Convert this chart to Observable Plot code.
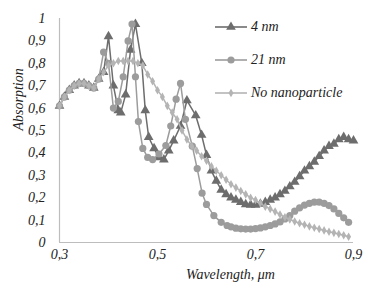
<!DOCTYPE html>
<html><head><meta charset="utf-8">
<script src="https://cdn.jsdelivr.net/npm/d3@7"></script>
<script src="https://cdn.jsdelivr.net/npm/@observablehq/plot@0.6"></script>
<style>
body{margin:0;background:#fff;}
#wrap{position:relative;width:383px;height:296px;font-family:'Liberation Serif','Times New Roman',serif;font-style:italic;}
#wrap svg text{font-family:'Liberation Serif','Times New Roman',serif;font-style:italic;}
.leg{position:absolute;left:214px;font-size:14px;color:#222;display:flex;align-items:center;height:14px;white-space:nowrap;}
.leg svg{margin-right:3px;}
</style></head><body><div id="wrap"></div>
<script>
const seriesNames = ["4 nm", "21 nm", "No nanoparticle"];

const wl4 = [0.30,0.31,0.32,0.33,0.34,0.35,0.36,0.37,0.38,0.39,0.40,0.41,0.42,0.425,0.435,0.445,0.455,0.468,0.475,0.482,0.493,0.503,0.513,0.523,0.533,0.547,0.56,0.578,0.59,0.60,0.61,0.62,0.63,0.64,0.65,0.66,0.67,0.68,0.69,0.70,0.71,0.72,0.73,0.74,0.75,0.76,0.77,0.78,0.79,0.80,0.81,0.82,0.83,0.84,0.85,0.86,0.87,0.88,0.89,0.90];
const abs4 = [0.61,0.65,0.68,0.70,0.71,0.71,0.70,0.69,0.73,0.76,0.92,0.70,0.59,0.58,0.66,0.86,0.975,0.80,0.59,0.47,0.42,0.38,0.37,0.41,0.455,0.52,0.634,0.567,0.48,0.39,0.32,0.275,0.235,0.215,0.20,0.19,0.18,0.17,0.168,0.168,0.172,0.18,0.19,0.20,0.215,0.23,0.25,0.27,0.295,0.32,0.34,0.36,0.385,0.41,0.43,0.44,0.46,0.47,0.46,0.455];

const wl21 = [0.30,0.31,0.32,0.33,0.34,0.35,0.36,0.37,0.38,0.39,0.40,0.41,0.42,0.43,0.44,0.448,0.455,0.461,0.47,0.48,0.49,0.503,0.517,0.527,0.538,0.547,0.557,0.571,0.581,0.591,0.60,0.615,0.63,0.642,0.65,0.66,0.67,0.68,0.69,0.70,0.71,0.72,0.73,0.74,0.75,0.76,0.77,0.78,0.79,0.80,0.81,0.82,0.83,0.84,0.85,0.86,0.87,0.88,0.89];
const abs21 = [0.61,0.65,0.68,0.70,0.71,0.71,0.70,0.69,0.73,0.85,0.80,0.60,0.63,0.74,0.90,0.975,0.74,0.54,0.42,0.38,0.37,0.395,0.433,0.52,0.64,0.71,0.55,0.43,0.33,0.22,0.17,0.12,0.09,0.076,0.07,0.064,0.061,0.06,0.06,0.062,0.065,0.07,0.076,0.083,0.092,0.105,0.12,0.14,0.155,0.167,0.175,0.18,0.18,0.175,0.165,0.15,0.13,0.11,0.09];

const wlNo = [0.30,0.31,0.32,0.33,0.34,0.35,0.36,0.37,0.38,0.39,0.40,0.41,0.42,0.43,0.44,0.45,0.46,0.47,0.48,0.49,0.50,0.51,0.52,0.53,0.54,0.55,0.56,0.57,0.58,0.59,0.60,0.61,0.62,0.63,0.64,0.65,0.66,0.67,0.68,0.69,0.70,0.71,0.72,0.73,0.74,0.75,0.76,0.77,0.78,0.79,0.80,0.81,0.82,0.83,0.84,0.85,0.86,0.87,0.88,0.89];
const absNo = [0.61,0.65,0.68,0.70,0.71,0.71,0.70,0.69,0.73,0.76,0.79,0.80,0.81,0.81,0.81,0.81,0.80,0.79,0.75,0.72,0.68,0.65,0.61,0.58,0.55,0.50,0.46,0.43,0.41,0.385,0.365,0.34,0.32,0.30,0.28,0.26,0.245,0.23,0.215,0.20,0.19,0.175,0.16,0.15,0.138,0.125,0.113,0.103,0.094,0.086,0.079,0.072,0.066,0.06,0.054,0.048,0.043,0.038,0.032,0.026];

const xTicks = [0.3, 0.5, 0.7, 0.9];
const yTicks = [0,0.1,0.2,0.3,0.4,0.5,0.6,0.7,0.8,0.9,1];

const toRows = (w, a) => w.map((x, i) => ({x, y: a[i]}));
const d4 = toRows(wl4, abs4), d21 = toRows(wl21, abs21), dNo = toRows(wlNo, absNo);

const c4 = "#6d6d6d", c21 = "#9c9c9c", cNo = "#b4b4b4";
const fmt = d => String(d).replace(".", ",");
const serif = "'Liberation Serif','Times New Roman',serif";

const chart = Plot.plot({
  width: 383, height: 296,
  marginLeft: 59, marginRight: 30, marginTop: 18, marginBottom: 54,
  style: {fontFamily: serif, fontStyle: "italic", fontSize: "14px", color: "#222", background: "#fff"},
  x: {domain: [0.3, 0.9]},
  y: {domain: [0, 1]},
  marks: [
    Plot.ruleY([0], {stroke: "#bdbdbd", strokeWidth: 1.2}),
    Plot.ruleX([0.3], {stroke: "#bdbdbd", strokeWidth: 1.2}),
    Plot.axisX({ticks: xTicks, tickFormat: fmt, tickSize: 0, tickPadding: 7, label: null, fontSize: 14}),
    Plot.axisY({ticks: yTicks, tickFormat: fmt, tickSize: 0, tickPadding: 14, label: null, fontSize: 14}),
    Plot.text(["Wavelength, μm"], {frameAnchor: "bottom", dy: 36, dx: 24, fontSize: 14, fill: "#222"}),
    Plot.text(["Absorption"], {frameAnchor: "left", rotate: -90, dx: -41, fontSize: 14, fill: "#222"}),
    Plot.line(d4, {x: "x", y: "y", stroke: c4, strokeWidth: 1.5}),
    Plot.dot(d4, {x: "x", y: "y", symbol: "triangle", r: 3.6, fill: c4, stroke: "none"}),
    Plot.line(d21, {x: "x", y: "y", stroke: c21, strokeWidth: 1.5}),
    Plot.dot(d21, {x: "x", y: "y", symbol: "circle", r: 3.6, fill: c21, stroke: "none"}),
    Plot.line(dNo, {x: "x", y: "y", stroke: cNo, strokeWidth: 1.5}),
    Plot.dot(dNo, {x: "x", y: "y", symbol: "diamond", r: 2.6, fill: cNo, stroke: "none"})
  ]
});
const wrap = document.getElementById("wrap");
wrap.appendChild(chart);

const legendItems = [
  {name: seriesNames[0], color: c4, sym: d3.symbolTriangle, r: 3.6, top: 20},
  {name: seriesNames[1], color: c21, sym: d3.symbolCircle, r: 3.6, top: 53},
  {name: seriesNames[2], color: cNo, sym: d3.symbolDiamond, r: 2.6, top: 86}
];
for (const it of legendItems) {
  const div = document.createElement("div");
  div.className = "leg";
  div.style.top = it.top + "px";
  const path = d3.symbol(it.sym, Math.PI * it.r * it.r)();
  div.innerHTML = `<svg width="34" height="14"><line x1="1" x2="33" y1="7" y2="7" stroke="${it.color}" stroke-width="1.6"/><path d="${path}" transform="translate(17,7)" fill="${it.color}"/></svg><span>${it.name}</span>`;
  wrap.appendChild(div);
}
</script></body></html>
